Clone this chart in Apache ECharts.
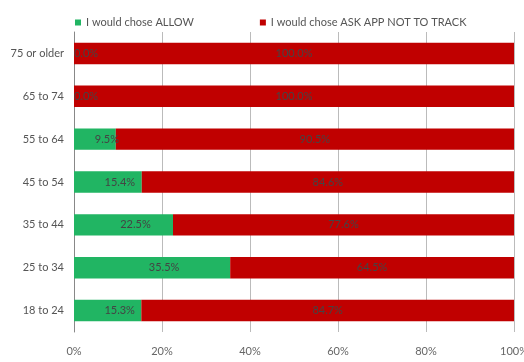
<!DOCTYPE html>
<html><head><meta charset="utf-8">
<script src="https://cdn.jsdelivr.net/npm/echarts@6/dist/echarts.min.js"></script>
<style>html,body{margin:0;padding:0;background:#fff}#c{width:524px;height:362px}</style>
</head><body><div id="c"></div>
<script>
const categories = ['18 to 24', '25 to 34', '35 to 44', '45 to 54', '55 to 64', '65 to 74', '75 or older'];
const allowValues = [15.3, 35.5, 22.5, 15.4, 9.5, 0.0, 0.0];
const askValues = [84.7, 64.5, 77.6, 84.6, 90.5, 100.0, 100.0];
const xTicks = [0, 20, 40, 60, 80, 100];
const seriesNames = ['I would chose ALLOW', 'I would chose ASK APP NOT TO TRACK'];

const font = 'Lato, "Open Sans", sans-serif';
const chart = echarts.init(document.getElementById('c'), null, {renderer: 'canvas'});
const lbl = {
  show: true, position: 'inside', color: '#444', fontSize: 11, fontFamily: font,
  formatter: p => p.value.toFixed(1) + '%'
};
chart.setOption({
  animation: false,
  textStyle: {fontFamily: font},
  legend: {
    top: 12, left: 70, itemWidth: 6, itemHeight: 6, itemGap: 66, icon: 'rect',
    textStyle: {color: '#555', fontSize: 11, fontFamily: font},
    data: seriesNames
  },
  grid: {left: 74, right: 10, top: 32, bottom: 30, containLabel: false, outerBoundsMode: 'none'},
  xAxis: {
    type: 'value', min: xTicks[0], max: xTicks[xTicks.length - 1], interval: 20,
    axisLabel: {formatter: v => v + '%', color: '#666', fontSize: 11, margin: 14, fontFamily: font},
    splitLine: {show: true, lineStyle: {color: '#bbb', width: 1}},
    axisLine: {show: false}, axisTick: {show: false}
  },
  yAxis: {
    type: 'category', data: categories,
    axisLine: {show: true, lineStyle: {color: '#888', width: 1}},
    axisTick: {show: false},
    axisLabel: {color: '#555', fontSize: 11, margin: 10, fontFamily: font}
  },
  series: [
    {name: seriesNames[0], type: 'bar', stack: 'a', data: allowValues, barWidth: '50%',
     itemStyle: {color: '#21b563'}, label: Object.assign({}, lbl, {offset: [12, 0]})},
    {name: seriesNames[1], type: 'bar', stack: 'a', data: askValues, barWidth: '50%',
     itemStyle: {color: '#c00000'}, label: lbl}
  ]
});
</script></body></html>
